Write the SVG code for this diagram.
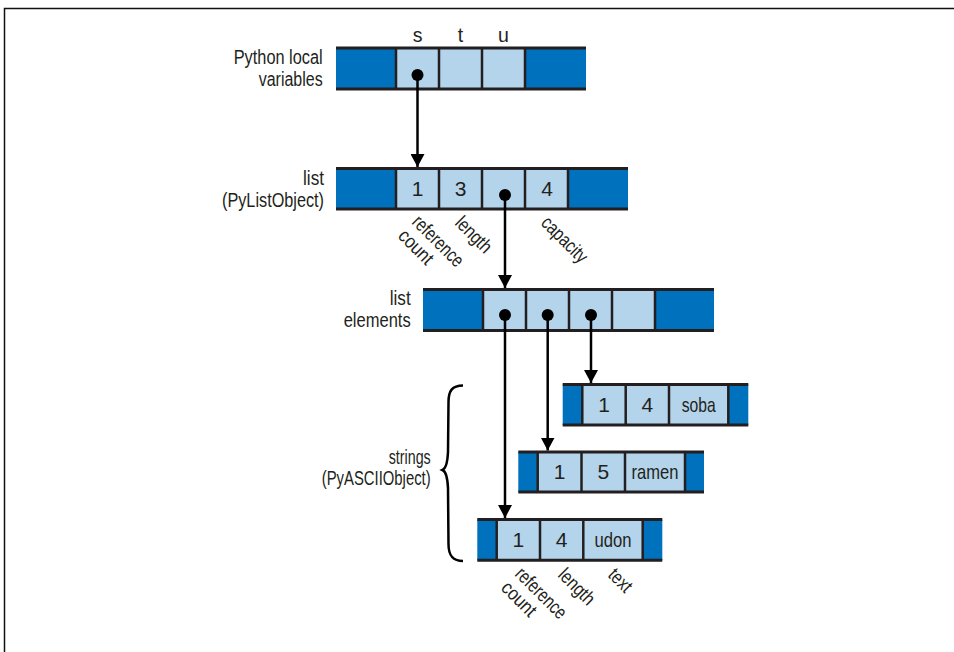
<svg xmlns="http://www.w3.org/2000/svg" width="954" height="652" viewBox="0 0 954 652">
<style>
  .dk{fill:#0071bc}
  .lt{fill:#b3d4ea}
  .hl{stroke:#231f20;stroke-width:3;fill:none}
  .vl{stroke:#231f20;stroke-width:2.5;fill:none}
  .cx{font-family:"Liberation Sans Narrow","Liberation Sans",Arial,sans-serif;font-size:21px;fill:#231f20;text-anchor:middle}
  .lb{font-family:"Liberation Sans Narrow","Liberation Sans",Arial,sans-serif;font-size:19.5px;fill:#231f20;text-anchor:end}
  .rl{font-family:"Liberation Sans Narrow","Liberation Sans",Arial,sans-serif;font-size:19.5px;fill:#231f20;text-anchor:start}
  .vn{font-family:"Liberation Sans Narrow","Liberation Sans",Arial,sans-serif;font-size:19.5px;fill:#231f20;text-anchor:middle}
  .cn{stroke:#000;stroke-width:2.5;fill:none}
  .frame{stroke:#111;stroke-width:1.5;fill:none}
</style>
<defs>
  <marker id="ah" markerUnits="userSpaceOnUse" markerWidth="14" markerHeight="14" refX="13" refY="7" orient="auto">
    <path d="M0,0 L13,7 L0,14 Z" fill="#000"/>
  </marker>
</defs>
<rect x="0" y="0" width="954" height="652" fill="#fff"/>
<path class="frame" d="M4.5,652 L4.5,8.5 L954,8.5"/>

<g id="locals">
  <rect class="dk" x="336" y="48" width="60" height="41"/>
  <rect class="lt" x="396" y="48" width="129" height="41"/>
  <rect class="dk" x="525" y="48" width="61" height="41"/>
  <path class="vl" d="M396,48V89M439,48V89M482,48V89M525,48V89"/>
  <path class="hl" d="M336,48H586M336,89H586"/>
  <text class="vn" x="417.5" y="41.5">s</text>
  <text class="vn" x="460.5" y="41.5">t</text>
  <text class="vn" x="503.5" y="41.5">u</text>
  <text class="lb" x="322.7" y="63.5" textLength="89" lengthAdjust="spacingAndGlyphs">Python local</text>
  <text class="lb" x="322.7" y="86" textLength="64" lengthAdjust="spacingAndGlyphs">variables</text>
</g>

<g id="list">
  <rect class="dk" x="336" y="168.5" width="60" height="40.5"/>
  <rect class="lt" x="396" y="168.5" width="172" height="40.5"/>
  <rect class="dk" x="568" y="168.5" width="60" height="40.5"/>
  <path class="vl" d="M396,168.5V209M439,168.5V209M482,168.5V209M525,168.5V209M568,168.5V209"/>
  <path class="hl" d="M336,168.5H628M336,209H628"/>
  <text class="cx" x="417.5" y="196">1</text>
  <text class="cx" x="460.5" y="196">3</text>
  <text class="cx" x="547" y="196">4</text>
  <text class="lb" x="324" y="185" textLength="21" lengthAdjust="spacingAndGlyphs">list</text>
  <text class="lb" x="324" y="207" textLength="102" lengthAdjust="spacingAndGlyphs">(PyListObject)</text>
  <text class="rl" transform="translate(411,223) rotate(45)" textLength="64" lengthAdjust="spacingAndGlyphs">reference</text>
  <text class="rl" transform="translate(397,237) rotate(45)" textLength="41" lengthAdjust="spacingAndGlyphs">count</text>
  <text class="rl" transform="translate(454,224) rotate(45)" textLength="43" lengthAdjust="spacingAndGlyphs">length</text>
  <text class="rl" transform="translate(540,224) rotate(45)" textLength="57" lengthAdjust="spacingAndGlyphs">capacity</text>
</g>

<g id="elements">
  <rect class="dk" x="423" y="289.5" width="60" height="41"/>
  <rect class="lt" x="483" y="289.5" width="172" height="41"/>
  <rect class="dk" x="655" y="289.5" width="59" height="41"/>
  <path class="vl" d="M483,289.5V330.5M526,289.5V330.5M569,289.5V330.5M612,289.5V330.5M655,289.5V330.5"/>
  <path class="hl" d="M423,289.5H714M423,330.5H714"/>
  <text class="lb" x="410.7" y="305" textLength="21" lengthAdjust="spacingAndGlyphs">list</text>
  <text class="lb" x="410.7" y="327" textLength="67" lengthAdjust="spacingAndGlyphs">elements</text>
</g>

<g id="soba">
  <rect class="dk" x="562.7" y="384.5" width="19.6" height="40.5"/>
  <rect class="lt" x="582.3" y="384.5" width="146" height="40.5"/>
  <rect class="dk" x="728.3" y="384.5" width="20" height="40.5"/>
  <path class="vl" d="M582.3,384.5V425M625.7,384.5V425M669,384.5V425M728.3,384.5V425"/>
  <path class="hl" d="M562.7,384.5H748.3M562.7,425H748.3"/>
  <text class="cx" x="604" y="411.5">1</text>
  <text class="cx" x="647.3" y="411.5">4</text>
  <text class="cx" x="698.7" y="411.5" textLength="34" lengthAdjust="spacingAndGlyphs">soba</text>
</g>

<g id="ramen">
  <rect class="dk" x="518.3" y="452" width="19.4" height="40"/>
  <rect class="lt" x="537.7" y="452" width="147.3" height="40"/>
  <rect class="dk" x="685" y="452" width="19" height="40"/>
  <path class="vl" d="M537.7,452V492M581.5,452V492M625,452V492M685,452V492"/>
  <path class="hl" d="M518.3,452H704M518.3,492H704"/>
  <text class="cx" x="559.6" y="479">1</text>
  <text class="cx" x="603.3" y="479">5</text>
  <text class="cx" x="655" y="479" textLength="47" lengthAdjust="spacingAndGlyphs">ramen</text>
</g>

<g id="udon">
  <rect class="dk" x="477.3" y="519.5" width="19.4" height="40.8"/>
  <rect class="lt" x="496.7" y="519.5" width="146" height="40.8"/>
  <rect class="dk" x="642.7" y="519.5" width="19.6" height="40.8"/>
  <path class="vl" d="M496.7,519.5V560.3M540,519.5V560.3M583.3,519.5V560.3M642.7,519.5V560.3"/>
  <path class="hl" d="M477.3,519.5H662.3M477.3,560.3H662.3"/>
  <text class="cx" x="518.3" y="546.5">1</text>
  <text class="cx" x="561.7" y="546.5">4</text>
  <text class="cx" x="613" y="546.5" textLength="37" lengthAdjust="spacingAndGlyphs">udon</text>
  <text class="rl" transform="translate(514,575) rotate(45)" textLength="64" lengthAdjust="spacingAndGlyphs">reference</text>
  <text class="rl" transform="translate(500,589) rotate(45)" textLength="41" lengthAdjust="spacingAndGlyphs">count</text>
  <text class="rl" transform="translate(557,576) rotate(45)" textLength="43" lengthAdjust="spacingAndGlyphs">length</text>
  <text class="rl" transform="translate(607,576) rotate(45)" textLength="25" lengthAdjust="spacingAndGlyphs">text</text>
</g>

<g id="strings-brace">
  <path d="M463,385.5 C452,385.5 448.5,391 448.5,402 L448,452 C447.5,463 446,468.5 442.5,470 C446,471.5 447.5,477 448,488 L448.5,544 C448.5,555 452,561 463,561" stroke="#000" stroke-width="2.5" fill="none"/>
  <text class="lb" x="430.7" y="464" textLength="42" lengthAdjust="spacingAndGlyphs">strings</text>
  <text class="lb" x="430.7" y="485" textLength="109" lengthAdjust="spacingAndGlyphs">(PyASCIIObject)</text>
</g>

<g id="connectors">
  <path class="cn" d="M417.5,75V167" marker-end="url(#ah)"/>
  <path class="cn" d="M505,195V288" marker-end="url(#ah)"/>
  <path class="cn" d="M505,315V518" marker-end="url(#ah)"/>
  <path class="cn" d="M547.7,315V450.5" marker-end="url(#ah)"/>
  <path class="cn" d="M591,315V383" marker-end="url(#ah)"/>
  <circle cx="417.5" cy="75" r="6"/>
  <circle cx="505" cy="195" r="6"/>
  <circle cx="505" cy="315" r="6"/>
  <circle cx="547.7" cy="315" r="6"/>
  <circle cx="591" cy="315" r="6"/>
</g>
</svg>
